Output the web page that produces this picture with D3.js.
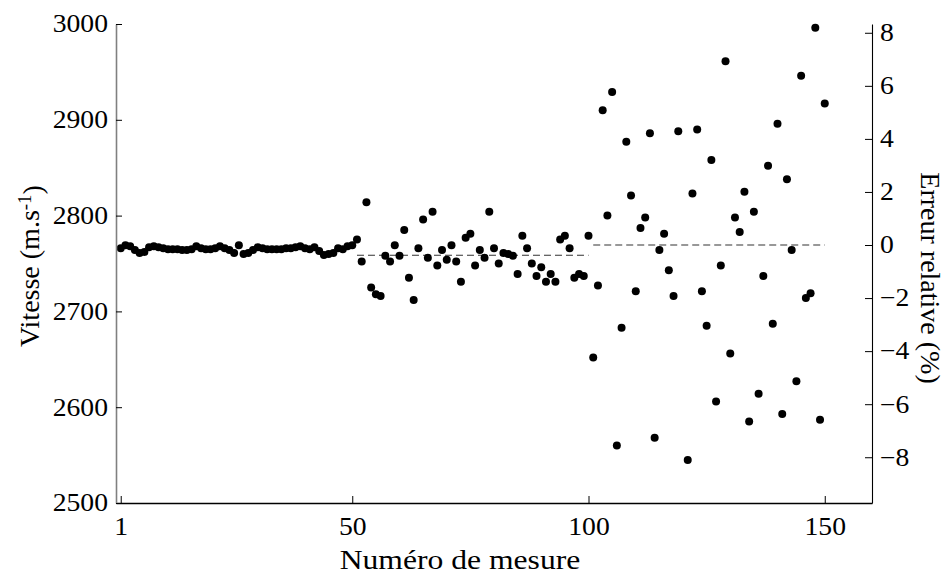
<!DOCTYPE html>
<html>
<head>
<meta charset="utf-8">
<script src="https://cdn.jsdelivr.net/npm/d3@7"></script>
<style>
  html, body { margin: 0; padding: 0; background: #fff; }
  svg { display: block; }
  text { font-family: "Liberation Serif", "Times New Roman", serif; fill: #000; }
</style>
</head>
<body>
<svg id="chart" width="945" height="574"></svg>
<script>
// ---- data ----
const speedGroup1 = [2766,2769,2768,2764,2761,2762,2767,2768,2767,2766,
                     2765,2765,2765,2764,2764,2765,2768,2766,2765,2765,
                     2766,2768,2766,2764,2761,2769,2760,2761,2764,2767,
                     2766,2765,2765,2765,2765,2766,2766,2767,2768,2766,
                     2765,2767,2763,2759,2760,2761,2766,2765,2768,2769];
const speedGroup2 = [2775,2752,2814,2725,2718,2716,2758,2752,2769,2758,
                     2785,2735,2712,2766,2796,2756,2804,2748,2764,2754,
                     2769,2752,2731,2777,2781,2748,2764,2756,2804,2766,
                     2750,2761,2760,2758,2739,2779,2766,2750,2737,2746,
                     2731,2739,2731,2775,2779,2766,2735,2739,2737,2779];
const speedGroup3 = [2652,2727,2910,2800,2929,2560,2683,2877,2821,2721,
                     2787,2798,2886,2568,2764,2781,2743,2716,2888,null,
                     2545,2823,2890,2721,2685,2858,2606,2748,2961,2656,
                     2798,2783,2825,2585,2804,2614,2737,2852,2687,2896,
                     2593,2838,2764,2627,2946,2714,2719,2996,2587,2917];
const groupMeanStart = [51, 101];
const groupMeanEnd   = [100, 150];
const groupMeanValue = [2758.6, 2769.3];
const referenceSpeed = 2769.3;
const xTicks  = [1, 50, 100, 150];
const yTicks  = [2500, 2600, 2700, 2800, 2900, 3000];
const yRTicks = [-8, -6, -4, -2, 0, 2, 4, 6, 8];
const xLabel  = "Numéro de mesure";
const yLabel  = "Vitesse (m.s";
const yLabelSup = "-1";
const yRLabel = "Erreur relative (%)";

const speeds = speedGroup1.concat(speedGroup2, speedGroup3);
const points = speeds.map((v, i) => ({n: i + 1, v})).filter(d => d.v !== null);

// ---- layout ----
const svg = d3.select("#chart");
const L = 116, R = 872, T = 24, B = 503;
const SX = 1.13; // horizontal stretch of the text in the reference

const x = d3.scaleLinear().domain([0, 160]).range([L, R]);
const y = d3.scaleLinear().domain([2500, 3000]).range([B, T]);
const pct = v => (v / referenceSpeed - 1) * 100;
const yR = d3.scaleLinear().domain([pct(2500), pct(3000)]).range([B, T]);

function stretch(sel) {
  sel.each(function() {
    const t = d3.select(this);
    const a = +t.attr("x") || 0;
    t.attr("transform", `translate(${a * (1 - SX)},0) scale(${SX},1)`);
  });
}

// dashed mean lines
svg.append("g").selectAll("line")
  .data(groupMeanValue.map((v, i) => ({s: groupMeanStart[i], e: groupMeanEnd[i], v})))
  .join("line")
  .attr("x1", d => x(d.s)).attr("x2", d => x(d.e))
  .attr("y1", d => y(d.v)).attr("y2", d => y(d.v))
  .attr("stroke", "#333").attr("stroke-width", 1.2)
  .attr("stroke-dasharray", "7,4");

// points
svg.append("g").selectAll("circle")
  .data(points).join("circle")
  .attr("cx", d => x(d.n)).attr("cy", d => y(d.v))
  .attr("r", 4).attr("fill", "#000");

// bottom axis
const gx = svg.append("g").attr("transform", `translate(0,${B})`)
  .call(d3.axisBottom(x).tickValues(xTicks).tickFormat(d3.format("d"))
        .tickSize(-7).tickSizeOuter(0).tickPadding(14.5));
gx.select(".domain").attr("stroke", "#000").attr("stroke-width", 1.3);
gx.selectAll(".tick line").attr("stroke", "#000");
gx.selectAll("text").style("font-size", "24.5px").call(stretch);

// left axis
const gy = svg.append("g").attr("transform", `translate(${L},0)`)
  .call(d3.axisLeft(y).tickValues(yTicks).tickFormat(d3.format("d"))
        .tickSize(-6).tickSizeOuter(0).tickPadding(8));
gy.select(".domain").attr("stroke", "#808080").attr("stroke-width", 1.6);
gy.selectAll(".tick line").attr("stroke", "#000");
gy.selectAll("text").style("font-size", "24.5px").call(stretch);

// right axis
const gr = svg.append("g").attr("transform", `translate(${R},0)`)
  .call(d3.axisRight(yR).tickValues(yRTicks).tickFormat(d3.format("d"))
        .tickSize(-7).tickSizeOuter(0).tickPadding(8));
gr.select(".domain").attr("stroke", "#000").attr("stroke-width", 1.1);
gr.selectAll(".tick line").attr("stroke", "#000");
gr.selectAll("text").style("font-size", "24.5px").call(stretch);

// titles
svg.append("text")
  .attr("transform", `translate(460,569) scale(${SX},1)`)
  .attr("text-anchor", "middle").style("font-size", "28px")
  .text(xLabel);

const yl = svg.append("text")
  .attr("transform", `translate(38.5,266) rotate(-90)`)
  .attr("text-anchor", "middle").style("font-size", "28px");
yl.append("tspan").text(yLabel);
yl.append("tspan").attr("dy", "-0.42em").style("font-size", "19px").text(yLabelSup);
yl.append("tspan").attr("dy", "0.42em").text(")");

svg.append("text")
  .attr("transform", `translate(921,278) rotate(90)`)
  .attr("text-anchor", "middle").style("font-size", "28px")
  .text(yRLabel);
</script>
</body>
</html>
